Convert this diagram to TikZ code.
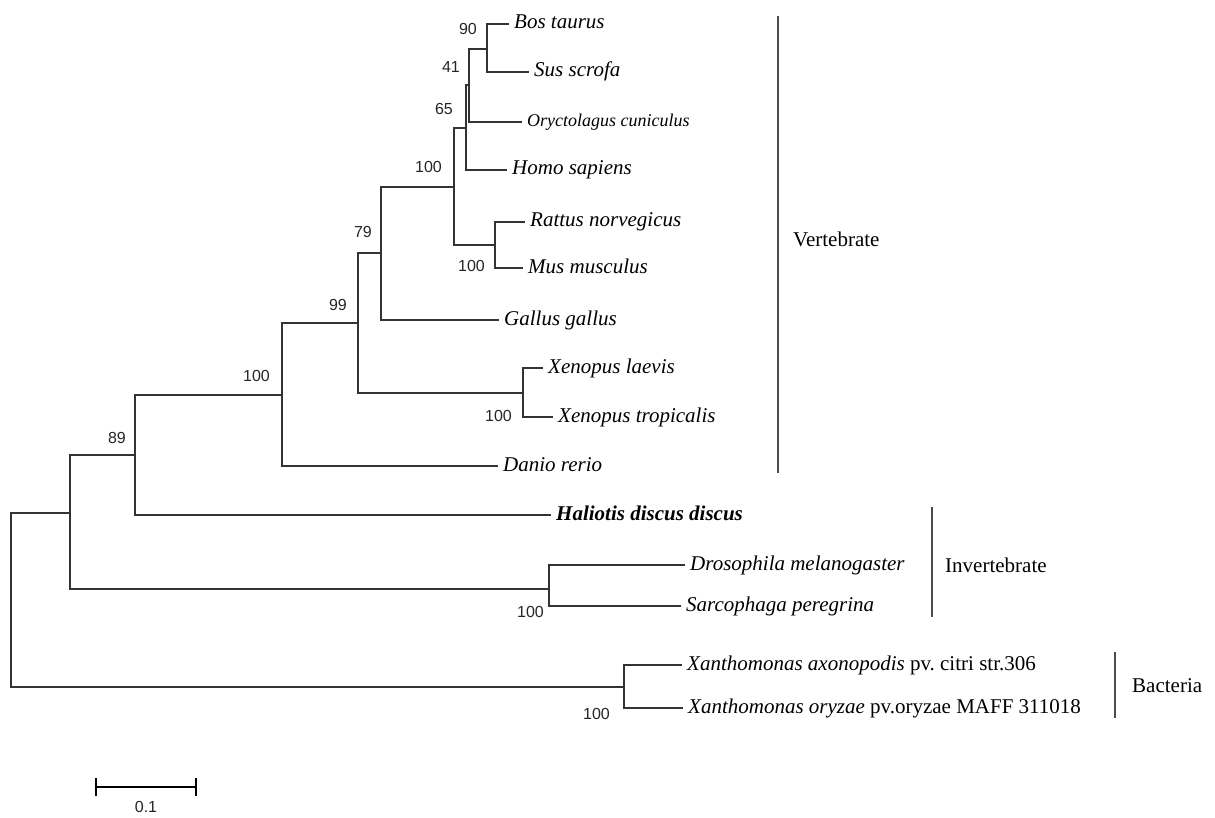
\documentclass[tikz,border=0pt]{standalone}
\usepackage{fontspec}
\setmainfont{Liberation Serif}
\newfontfamily\bootfont{Liberation Sans}
\begin{document}
\begin{tikzpicture}[x=1pt,y=-1pt,
  br/.style={draw=black!80, line width=1.3pt},
  leaf/.style={anchor=west, inner xsep=5pt, inner ysep=0pt, text height=15pt, text depth=5pt, font=\fontsize{21}{25}\selectfont\itshape},
  boot/.style={anchor=base east, inner sep=0pt, font=\bootfont\fontsize{16}{19}\selectfont, text=black!85},
  grp/.style={anchor=base west, inner sep=0pt, font=\fontsize{21}{25}\selectfont},
  bar/.style={draw=black!70, line width=1.3pt},
  scalebar/.style={draw=black, line width=2.5pt}]
\fill[white] (0,0) rectangle (1215,818);
\useasboundingbox (0,0) rectangle (1215,818);

% internal nodes
\coordinate (n90) at (487,49);
\coordinate (n41) at (469,85);
\coordinate (n65) at (466,128);
\coordinate (n100a) at (454,187);
\coordinate (nRM) at (495,245);
\coordinate (n79) at (381,253);
\coordinate (n99) at (358,323);
\coordinate (nX) at (523,393);
\coordinate (n100b) at (282,395);
\coordinate (n89) at (135,455);
\coordinate (nA) at (70,513);
\coordinate (nInv) at (549,589);
\coordinate (nXan) at (624,687);
\coordinate (root) at (11,600);

% leaves
\node[leaf] (bos) at (509,24) {Bos taurus};
\node[leaf] (sus) at (529,72) {Sus scrofa};
\node[leaf, font=\fontsize{18}{22}\selectfont\itshape] (ory) at (522,122) {Oryctolagus cuniculus};
\node[leaf] (homo) at (507,170) {Homo sapiens};
\node[leaf] (rat) at (525,222) {Rattus norvegicus};
\node[leaf] (mus) at (523,268) {Mus musculus};
\node[leaf] (gal) at (499,320) {Gallus gallus};
\node[leaf] (xl) at (543,368) {Xenopus laevis};
\node[leaf] (xt) at (553,417) {Xenopus tropicalis};
\node[leaf] (dan) at (498,466) {Danio rerio};
\node[leaf, font=\fontsize{21}{25}\selectfont\bfseries\itshape] (hal) at (551,515) {Haliotis discus discus};
\node[leaf] (dro) at (685,565) {Drosophila melanogaster};
\node[leaf] (sar) at (681,606) {Sarcophaga peregrina};
\node[leaf] (xa) at (682,665) {Xanthomonas axonopodis\/ \upshape pv.\ citri str.306};
\node[leaf] (xo) at (683,708) {Xanthomonas oryzae\/ \upshape pv.oryzae MAFF 311018};

% branches
\draw[br] (n90) |- (bos.west);
\draw[br] (n90) |- (sus.west);
\draw[br] (n41) |- (n90);
\draw[br] (n41) |- (ory.west);
\draw[br] (n65) |- (n41);
\draw[br] (n65) |- (homo.west);
\draw[br] (n100a) |- (n65);
\draw[br] (n100a) |- (nRM);
\draw[br] (nRM) |- (rat.west);
\draw[br] (nRM) |- (mus.west);
\draw[br] (n79) |- (n100a);
\draw[br] (n79) |- (gal.west);
\draw[br] (n99) |- (n79);
\draw[br] (n99) |- (nX);
\draw[br] (nX) |- (xl.west);
\draw[br] (nX) |- (xt.west);
\draw[br] (n100b) |- (n99);
\draw[br] (n100b) |- (dan.west);
\draw[br] (n89) |- (n100b);
\draw[br] (n89) |- (hal.west);
\draw[br] (nA) |- (n89);
\draw[br] (nA) |- (nInv);
\draw[br] (nInv) |- (dro.west);
\draw[br] (nInv) |- (sar.west);
\draw[br] (root) |- (nA);
\draw[br] (root) |- (nXan);
\draw[br] (nXan) |- (xa.west);
\draw[br] (nXan) |- (xo.west);

% bootstrap values
\node[boot] (b90) at (477,35) {90};
\node[boot] (b41) at (460,73) {41};
\node[boot] (b65) at (453,115) {65};
\node[boot] (b100a) at (442,173) {100};
\node[boot] (b100rm) at (485,272) {100};
\node[boot] (b79) at (372,238) {79};
\node[boot] (b99) at (347,310) {99};
\node[boot] (b100b) at (270,381) {100};
\node[boot] (b100x) at (512,421) {100};
\node[boot] (b89) at (126,443) {89};
\node[boot] (b100i) at (544,617) {100};
\node[boot] (b100xa) at (610,719) {100};

% group bars
\coordinate (vt) at (778,16);
\coordinate (vb) at (778,473);
\draw[bar] (vt) -- (vb);
\node[grp] (vert) at (793,247) {Vertebrate};
\coordinate (it) at (932,507);
\coordinate (ib) at (932,617);
\draw[bar] (it) -- (ib);
\node[grp] (inv) at (945,572) {Invertebrate};
\coordinate (bt) at (1115,652);
\coordinate (bb) at (1115,718);
\draw[bar] (bt) -- (bb);
\node[grp] (bac) at (1132,692) {Bacteria};

% scale bar
\coordinate (s1) at (96,787);
\coordinate (s2) at (196,787);
\draw[scalebar] (s1) -- (s2);
\draw[scalebar] ([yshift=-9pt]s1) -- ([yshift=9pt]s1);
\draw[scalebar] ([yshift=-9pt]s2) -- ([yshift=9pt]s2);
\node[anchor=base, inner sep=0pt, font=\bootfont\fontsize{16}{19}\selectfont, text=black!85] (sl) at (146,812) {0.1};
\end{tikzpicture}
\end{document}
